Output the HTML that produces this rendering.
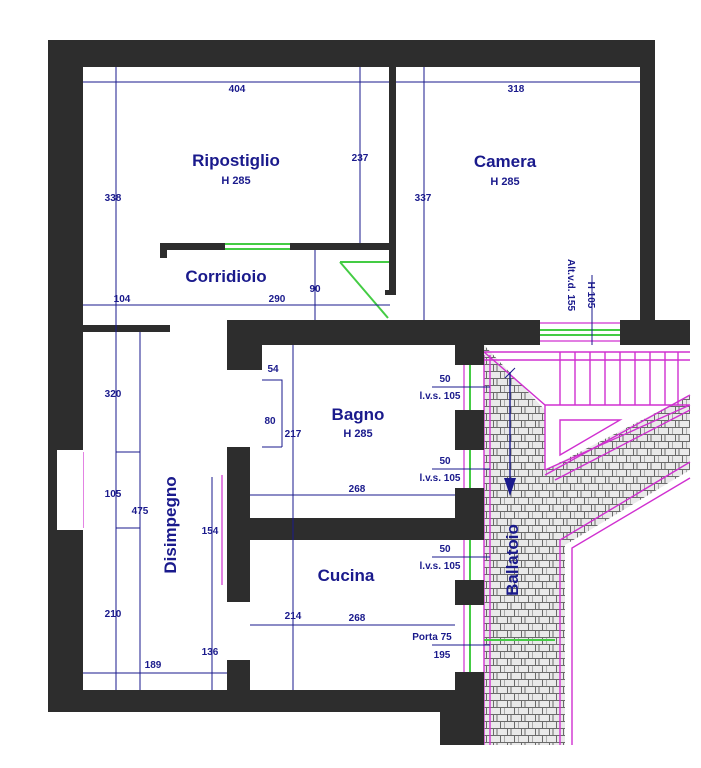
<!DOCTYPE html>
<html><head><meta charset="utf-8"><style>
html,body{margin:0;padding:0;background:#fff;width:701px;height:768px;overflow:hidden}
svg{display:block}
text{font-family:"Liberation Sans",sans-serif;font-weight:bold;fill:#1a1a8c}
.d{font-size:10px}
.r{font-size:17px}
.h{font-size:11px}
</style></head><body>
<svg width="701" height="768" viewBox="0 0 701 768">
<defs>
<pattern id="br" width="14" height="14" patternUnits="userSpaceOnUse">
<rect width="14" height="14" fill="#e9e9e9"/>
<path d="M0 0.5H14M0 7.5H14M3.5 0V7M10.5 7V14M7 0V7M0 7V14" stroke="#6a6a6a" stroke-width="1" fill="none"/>
</pattern>
</defs>
<polygon points="484,345 690,345 690,470 565,545 565,745 484,745" fill="url(#br)"/>
<polygon points="484,345 690,345 690,395 545,470 545,410" fill="#fff"/>
<g stroke="#d030d0" stroke-width="1.4" fill="none">
<path d="M484 352H690M484 360H690"/>
<path d="M560 352V405M575 352V405M590 352V405M605 352V405M620 352V405M635 352V405M650 352V405M665 352V405M678 352V405"/>
<path d="M484 352L545 405H690M545 405V470M545 470L690 405"/>
<path d="M560 420H620L560 455Z"/>
<path d="M545 475L690 395M555 480L690 410"/>
<path d="M690 462L560 540V745M690 478L572 548V745"/>
<path d="M484 355V745M490 355V745"/>
</g>
<path d="M510 372V490" stroke="#1a1a8c" stroke-width="1.4"/>
<polygon points="504,478 516,478 510,496" fill="#1a1a8c"/>
<path d="M505 378L515 368" stroke="#1a1a8c"/>
<g stroke="#44cc44" stroke-width="2" fill="none">
<path d="M225 244H290M225 249H290"/>
<path d="M540 330H620M540 335H620"/>
<path d="M470 365V410M470 450V488M470 540V580M470 605V672"/>
<path d="M340 262H390M340 262L388 318"/>
<path d="M484 640H555"/>
</g>
<g stroke="#d030d0" stroke-width="1.2" fill="none">
<path d="M540 323H620M540 341H620"/>
<path d="M83 452V528"/>
<path d="M464 365V410M464 450V488M464 540V580M464 605V672"/>
<path d="M222 475V585"/>
</g>
<g fill="#2d2d2d">
<rect x="48" y="40" width="607" height="27"/>
<rect x="48" y="40" width="35" height="672"/>
<rect x="640" y="40" width="15" height="280"/>
<rect x="389" y="67" width="7" height="225"/>
<rect x="160" y="243" width="65" height="7"/>
<rect x="160" y="243" width="7" height="15"/>
<rect x="290" y="243" width="106" height="7"/>
<rect x="385" y="290" width="11" height="5"/>
<rect x="83" y="325" width="87" height="7"/>
<rect x="227" y="320" width="313" height="25"/>
<rect x="620" y="320" width="70" height="25"/>
<rect x="455" y="345" width="29" height="20"/>
<rect x="227" y="345" width="35" height="25"/>
<rect x="455" y="410" width="29" height="40"/>
<rect x="250" y="518" width="234" height="22"/>
<rect x="455" y="488" width="29" height="52"/>
<rect x="227" y="447" width="23" height="155"/>
<rect x="455" y="580" width="29" height="25"/>
<rect x="48" y="690" width="436" height="22"/>
<rect x="227" y="660" width="23" height="30"/>
<rect x="455" y="672" width="29" height="73"/>
<rect x="440" y="690" width="44" height="55"/>
</g>
<rect x="57" y="450" width="26" height="80" fill="#fff"/>
<g stroke="#1a1a8c" stroke-width="1" fill="none">
<path d="M83 82H389M396 82H640"/>
<path d="M116 67V690M140 332V690"/>
<path d="M360 67V243M424 67V320"/>
<path d="M83 305H390"/>
<path d="M315 250V320"/>
<path d="M116 452H140M116 528H140"/>
<path d="M262 380H282V447M262 447H282"/>
<path d="M293 345V690"/>
<path d="M250 495H455"/>
<path d="M250 625H455"/>
<path d="M212 477V690"/>
<path d="M83 673H227"/>
<path d="M432 387H490M432 469H490M432 557H490M432 645H490"/>
<path d="M592 275V345"/>
</g>
<text class="r" x="236" y="166" text-anchor="middle">Ripostiglio</text>
<text class="h" x="236" y="184" text-anchor="middle">H 285</text>
<text class="r" x="505" y="167" text-anchor="middle">Camera</text>
<text class="h" x="505" y="185" text-anchor="middle">H 285</text>
<text class="r" x="226" y="282" text-anchor="middle">Corridioio</text>
<text class="r" x="358" y="420" text-anchor="middle">Bagno</text>
<text class="h" x="358" y="437" text-anchor="middle">H 285</text>
<text class="r" x="346" y="581" text-anchor="middle">Cucina</text>
<text class="r" transform="translate(176,525) rotate(-90)" text-anchor="middle">Disimpegno</text>
<text class="r" transform="translate(518,560) rotate(-90)" text-anchor="middle">Ballatoio</text>
<text class="d" transform="translate(568,285) rotate(90)" text-anchor="middle">Alt.v.d. 155</text>
<text class="d" transform="translate(588,295) rotate(90)" text-anchor="middle">H 105</text>
<text class="d" x="237" y="92" text-anchor="middle">404</text>
<text class="d" x="516" y="92" text-anchor="middle">318</text>
<text class="d" x="113" y="201" text-anchor="middle">338</text>
<text class="d" x="360" y="161" text-anchor="middle">237</text>
<text class="d" x="423" y="201" text-anchor="middle">337</text>
<text class="d" x="122" y="302" text-anchor="middle">104</text>
<text class="d" x="277" y="302" text-anchor="middle">290</text>
<text class="d" x="315" y="292" text-anchor="middle">90</text>
<text class="d" x="113" y="397" text-anchor="middle">320</text>
<text class="d" x="273" y="372" text-anchor="middle">54</text>
<text class="d" x="270" y="424" text-anchor="middle">80</text>
<text class="d" x="293" y="437" text-anchor="middle">217</text>
<text class="d" x="113" y="497" text-anchor="middle">105</text>
<text class="d" x="140" y="514" text-anchor="middle">475</text>
<text class="d" x="210" y="534" text-anchor="middle">154</text>
<text class="d" x="357" y="492" text-anchor="middle">268</text>
<text class="d" x="357" y="621" text-anchor="middle">268</text>
<text class="d" x="293" y="619" text-anchor="middle">214</text>
<text class="d" x="113" y="617" text-anchor="middle">210</text>
<text class="d" x="210" y="655" text-anchor="middle">136</text>
<text class="d" x="153" y="668" text-anchor="middle">189</text>
<text class="d" x="445" y="382" text-anchor="middle">50</text>
<text class="d" x="440" y="399" text-anchor="middle">l.v.s. 105</text>
<text class="d" x="445" y="464" text-anchor="middle">50</text>
<text class="d" x="440" y="481" text-anchor="middle">l.v.s. 105</text>
<text class="d" x="445" y="552" text-anchor="middle">50</text>
<text class="d" x="440" y="569" text-anchor="middle">l.v.s. 105</text>
<text class="d" x="432" y="640" text-anchor="middle">Porta 75</text>
<text class="d" x="442" y="658" text-anchor="middle">195</text>
</svg>
</body></html>
